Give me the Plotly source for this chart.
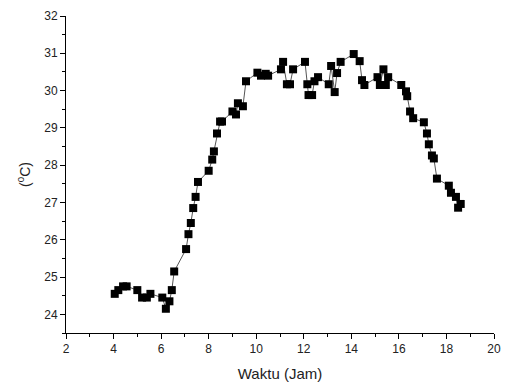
import plotly.graph_objects as go

time_h = [4.05, 4.2, 4.4, 4.55, 5.0, 5.2, 5.4, 5.55, 6.05, 6.2, 6.35, 6.45, 6.55,
          7.05, 7.15, 7.25, 7.35, 7.45, 7.55, 8.0, 8.15, 8.22, 8.35, 8.48, 8.56,
          9.0, 9.15, 9.23, 9.44, 9.57, 10.05, 10.2, 10.4, 10.5, 11.04, 11.13,
          11.29, 11.42, 11.55, 12.05, 12.15, 12.2, 12.35, 12.45, 12.6, 13.05,
          13.15, 13.3, 13.4, 13.55, 14.1, 14.35, 14.45, 14.55, 15.1, 15.2, 15.35,
          15.45, 15.55, 16.1, 16.3, 16.35, 16.47, 16.6, 17.05, 17.18, 17.26,
          17.39, 17.47, 17.6, 18.1, 18.19, 18.4, 18.49, 18.6]
temp_c = [24.55, 24.65, 24.75, 24.75, 24.65, 24.45, 24.45, 24.55, 24.45, 24.15, 24.35, 24.65, 25.15,
          25.75, 26.15, 26.45, 26.85, 27.15, 27.55, 27.85, 28.15, 28.37, 28.85, 29.17, 29.17,
          29.44, 29.36, 29.66, 29.58, 30.25, 30.48, 30.4, 30.45, 30.4, 30.57, 30.77,
          30.17, 30.17, 30.57, 30.77, 30.17, 29.88, 29.88, 30.25, 30.36, 30.17,
          30.66, 29.96, 30.47, 30.77, 30.98, 30.79, 30.28, 30.15, 30.36, 30.15, 30.57,
          30.15, 30.36, 30.15, 29.98, 29.85, 29.44, 29.26, 29.15, 28.85, 28.56,
          28.26, 28.18, 27.64, 27.45, 27.26, 27.15, 26.86, 26.96]

x_ticks = [2, 4, 6, 8, 10, 12, 14, 16, 18, 20]
y_ticks = [24, 25, 26, 27, 28, 29, 30, 31, 32]

fig = go.Figure(go.Scatter(
    x=time_h, y=temp_c, mode="lines+markers",
    line=dict(color="#555555", width=1),
    marker=dict(symbol="square", size=8, color="black"),
))

font = dict(family="Arial, Liberation Sans, sans-serif", size=12, color="#222222")
fig.update_layout(
    width=509, height=384,
    margin=dict(l=66, r=15, t=16, b=51),
    paper_bgcolor="white", plot_bgcolor="white",
    showlegend=False,
    font=font,
)
fig.update_xaxes(
    range=[2, 20], tickvals=x_ticks, ticktext=[str(v) for v in x_ticks],
    showline=True, linecolor="black", linewidth=1, showgrid=False, zeroline=False,
    ticks="outside", ticklen=5, tickcolor="black", automargin=False,
    minor=dict(ticks="outside", ticklen=3, dtick=1, tickcolor="black", showgrid=False),
    title=dict(text="Waktu (Jam)", font=dict(size=15, color="#222222"), standoff=13),
)
fig.update_yaxes(
    range=[23.5, 32], tickvals=y_ticks, ticktext=[str(v) for v in y_ticks],
    showline=True, linecolor="black", linewidth=1, showgrid=False, zeroline=False,
    ticks="outside", ticklen=5, tickcolor="black", automargin=False,
    minor=dict(ticks="outside", ticklen=3, dtick=0.5, tickcolor="black", showgrid=False),
    title=dict(text="(<sup>0</sup>C)", font=dict(size=14, color="#222222"), standoff=10),
)
fig.write_html("out.html")
